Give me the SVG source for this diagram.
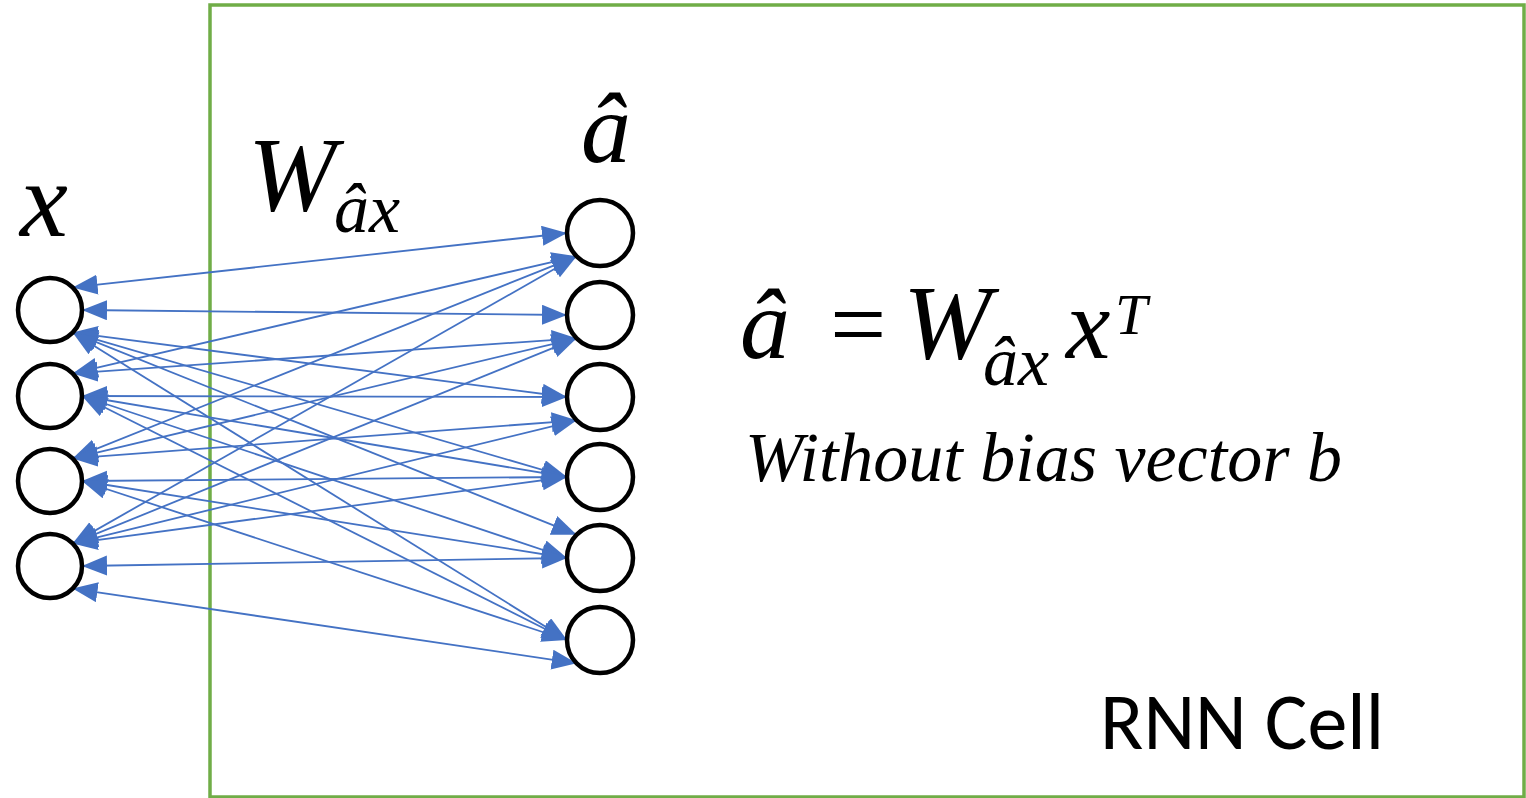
<svg xmlns="http://www.w3.org/2000/svg" width="1526" height="798" viewBox="0 0 1526 798">
<style>
.node{fill:none;stroke:#000;stroke-width:4.5}
.conn line{stroke:#4472C4;stroke-width:1.8;marker-start:url(#ah);marker-end:url(#ah)}
.m{font-family:'Liberation Serif','Times New Roman',serif;font-style:italic;fill:#000}
.r{font-family:'Liberation Serif','Times New Roman',serif;fill:#000}
.lbl{font-family:Carlito,Lato,'Liberation Sans',sans-serif;fill:#000}
</style>
<defs>
<marker id="ah" markerUnits="userSpaceOnUse" markerWidth="28" markerHeight="22" refX="25" refY="10" orient="auto-start-reverse">
<path d="M0,0 L25,10 L0,20 z" fill="#4472C4"/>
</marker>
</defs>
<rect width="1526" height="798" fill="#fff"/>
<g id="cell">
<rect x="210" y="5" width="1314" height="792" fill="none" stroke="#70AD47" stroke-width="3.5"/>
<text class="lbl" x="1100" y="749" font-size="80">RNN Cell</text>
</g>
<g id="connectors" class="conn">
<line x1="72.6" y1="287.4" x2="567" y2="233"/>
<line x1="82" y1="310" x2="567" y2="315"/>
<line x1="72.6" y1="332.6" x2="567" y2="397"/>
<line x1="72.6" y1="332.6" x2="567" y2="477"/>
<line x1="72.6" y1="332.6" x2="576.7" y2="534.7"/>
<line x1="72.6" y1="332.6" x2="567" y2="640"/>
<line x1="72.6" y1="373.4" x2="576.7" y2="256.3"/>
<line x1="72.6" y1="373.4" x2="576.7" y2="338.3"/>
<line x1="82" y1="396" x2="567" y2="397"/>
<line x1="82" y1="396" x2="567" y2="477"/>
<line x1="82" y1="396" x2="567" y2="558"/>
<line x1="82" y1="396" x2="567" y2="640"/>
<line x1="72.6" y1="458.4" x2="576.7" y2="256.3"/>
<line x1="72.6" y1="458.4" x2="576.7" y2="338.3"/>
<line x1="72.6" y1="458.4" x2="576.7" y2="420.3"/>
<line x1="82" y1="481" x2="567" y2="477"/>
<line x1="82" y1="481" x2="567" y2="558"/>
<line x1="82" y1="481" x2="567" y2="640"/>
<line x1="72.6" y1="543.4" x2="576.7" y2="256.3"/>
<line x1="72.6" y1="543.4" x2="576.7" y2="338.3"/>
<line x1="72.6" y1="543.4" x2="576.7" y2="420.3"/>
<line x1="72.6" y1="543.4" x2="567" y2="477"/>
<line x1="82" y1="566" x2="567" y2="558"/>
<line x1="72.6" y1="588.6" x2="576.7" y2="663.3"/>
</g>
<g id="x-layer">
<text class="m" x="20" y="236" font-size="108">x</text>
<circle id="x1" class="node" cx="50" cy="310" r="32"/>
<circle id="x2" class="node" cx="50" cy="396" r="32"/>
<circle id="x3" class="node" cx="50" cy="481" r="32"/>
<circle id="x4" class="node" cx="50" cy="566" r="32"/>
</g>
<g id="a-layer">
<text class="m" x="581" y="162" font-size="100">â</text>
<circle id="a1" class="node" cx="600" cy="233" r="33"/>
<circle id="a2" class="node" cx="600" cy="315" r="33"/>
<circle id="a3" class="node" cx="600" cy="397" r="33"/>
<circle id="a4" class="node" cx="600" cy="477" r="33"/>
<circle id="a5" class="node" cx="600" cy="558" r="33"/>
<circle id="a6" class="node" cx="600" cy="640" r="33"/>
</g>
<g id="weight-label">
<text class="m" x="248" y="210" font-size="106">W</text>
<text class="m" x="334" y="232" font-size="70">âx</text>
</g>
<g id="formula">
<text class="m" x="740" y="358" font-size="100">â</text>
<text class="r" x="830" y="358" font-size="100">=</text>
<text class="m" x="903" y="358" font-size="106">W</text>
<text class="m" x="983" y="385" font-size="70">âx</text>
<text class="m" x="1066" y="358" font-size="100">x</text>
<text class="m" x="1115" y="334" font-size="58">T</text>
<text class="m" x="745" y="481" font-size="70">Without bias vector b</text>
</g>
</svg>
